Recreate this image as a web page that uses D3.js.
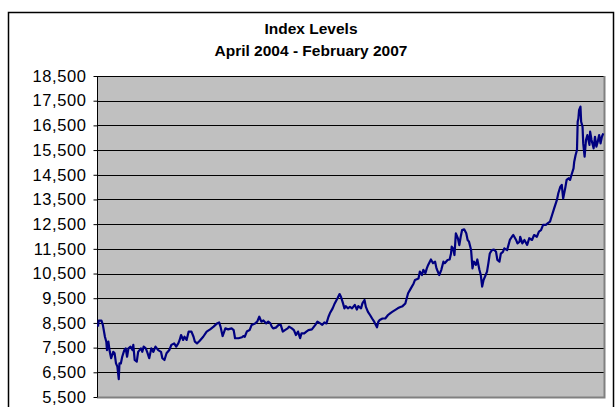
<!DOCTYPE html>
<html><head><meta charset="utf-8">
<script src="https://cdn.jsdelivr.net/npm/d3@7"></script>
<style>body{margin:0;background:#fff}svg{display:block}</style>
</head><body>
<svg id="c" width="615" height="407"></svg>
<script>
const titleLines = ["Index Levels", "April 2004 - February 2007"];
const yTicks = [5500,6500,7500,8500,9500,10500,11500,12500,13500,14500,15500,16500,17500,18500];
// trading-day index since start of April 2004
const days = [0,1,5,7,10,12,13,15,17,19,22,24,26,28,30,31,33,35,38,40,42,44,47,50,51,53,56,58,62,64,66,69,71,74,77,80,83,87,91,93,96,99,103,106,110,113,116,118,120,123,125,128,131,135,138,140,143,147,
152,157,162,167,172,175,177,180,184,188,193,196,198,203,208,210,212,215,219,222,227,230,233,236,239,243,246,249,251,253,257,261,264,267,270,274,276,280,283,286,289,292,294,298,301,304,
309,314,317,321,324,327,330,333,335,339,342,346,349,351,354,356,358,361,364,367,371,374,376,380,382,385,387,390,393,396,399,403,405,407,411,415,419,422,425,429,433,436,440,444,446,448,452,456,
458,463,465,468,470,473,475,477,481,484,487,489,493,496,499,501,505,508,510,511,513,515,517,520,522,524,526,529,532,534,536,539,541,543,546,548,551,553,555,557,559,562,564,566,569,572,575,577,580,582,585,587,591,593,595,598,600,604,606,609,
610,613,616,620,623,627,630,634,637,640,643,647,650,653,656,659,663,665,668,670,672,675,677,680,682,684,687,688,690,692,693,694,695,697,698,700,701,703,705,707,710,711,713,716,718,720,722,724,726,728,730];
const levels = [8350,8590,8590,8420,7940,7740,7400,7740,7330,7070,7330,7270,6860,6730,6220,6860,6860,7130,7400,7470,7130,7470,7540,7400,7610,7000,6930,7330,7470,7330,7540,7470,7330,7070,7470,7330,7540,7400,7330,7070,7000,7270,7400,7610,7670,7540,7670,7810,8010,7810,7940,7810,8150,8150,7940,7740,7670,7780,
7940,8150,8240,8350,8480,8520,8350,7970,8280,8240,8280,8210,7880,7880,7920,7970,7940,8150,8210,8420,8480,8550,8750,8550,8600,8480,8550,8480,8350,8280,8310,8420,8420,8150,8210,8280,8350,8280,8210,8010,8150,7880,8080,8080,8150,8210,
8240,8420,8550,8480,8420,8520,8480,8750,8890,9090,9290,9500,9670,9560,9290,9090,9180,9090,9150,9090,9230,9040,9180,9090,9290,9430,9150,8950,8820,8680,8550,8320,8550,8620,8680,8680,8820,8890,8950,9020,9090,9130,9180,9290,9500,9700,9900,10100,
10240,10300,10580,10440,10650,10510,10710,10850,11070,10920,10980,10710,10440,10650,10980,10920,11050,11070,11310,11590,11520,11250,12130,11920,11650,11990,12260,12290,12130,11860,11790,11450,10710,10980,10850,11070,10650,10440,9970,10240,10370,10580,10920,11310,11450,11470,11380,11050,10980,11310,11380,11520,11450,11650,11860,11990,12060,11860,11720,11790,
11990,11720,11860,11660,11930,11860,12060,11990,12200,12260,12470,12470,12540,12600,12870,13140,13480,13750,14020,14090,13540,13960,14290,14360,14290,14490,14760,15030,15300,15500,16650,16780,17120,17260,16650,16450,15770,15230,15910,16110,15710,16250,15910,15570,16040,15640,15840,16110,15770,16040,16180];

const data = days.map((d,i)=>({d, v: levels[i]}));
const svg = d3.select("#c");
const L = 97, R = 604, T = 76, B = 397;

// outer chart border
svg.append("rect").attr("x",8.5).attr("y",12.5).attr("width",605).attr("height",420)
  .attr("fill","#fff").attr("stroke","#000").attr("stroke-width",1.5);

const x = d3.scaleLinear().domain([0, 730]).range([L+1, R-0.7]);
const y = d3.scaleLinear().domain([5500, 18500]).range([B, T]);

svg.append("rect").attr("x",L).attr("y",T).attr("width",R-L).attr("height",B-T).attr("fill","#C0C0C0");

// gridlines
svg.append("g").selectAll("line").data(yTicks.slice(1)).join("line")
  .attr("x1",L).attr("x2",R).attr("y1",d=>Math.round(y(d))+0.5).attr("y2",d=>Math.round(y(d))+0.5)
  .attr("stroke","#000").attr("stroke-width",1);

// plot border right/bottom
svg.append("path").attr("d",`M${R+0.5},${T}V${B+0.5}H${L}`).attr("fill","none").attr("stroke","#808080").attr("stroke-width",2);

// y axis
const yAxis = d3.axisLeft(y).tickValues(yTicks).tickFormat(d3.format(",")).tickSize(4).tickPadding(7);
const ga = svg.append("g").attr("transform",`translate(${L+0.5},0)`).call(yAxis);
ga.select(".domain").attr("stroke","#000").attr("d",`M0,${T}V${B}`);
ga.selectAll(".tick line").attr("stroke","#000");
ga.selectAll(".tick text").attr("fill","#000").style("font-family","Arial, 'Liberation Sans', sans-serif")
  .style("font-size","16.5px").style("letter-spacing","0.6px");

// line
svg.append("path").datum(data).attr("fill","none").attr("stroke","#000080").attr("stroke-width",2.2)
  .attr("stroke-linejoin","round")
  .attr("d", d3.line().x(d=>x(d.d)).y(d=>y(d.v)));

// title
svg.append("g").selectAll("text").data(titleLines).join("text")
  .attr("x",311).attr("y",(d,i)=>34+i*22).attr("text-anchor","middle")
  .style("font-family","Arial, 'Liberation Sans', sans-serif").style("font-weight","bold").style("font-size","15.5px")
  .text(d=>d);
</script>
</body></html>
